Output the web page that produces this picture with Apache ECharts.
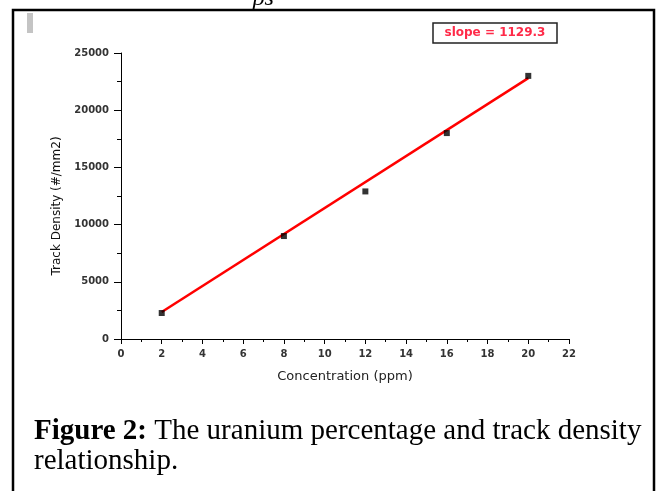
<!DOCTYPE html>
<html><head><meta charset="utf-8">
<script src="https://cdn.jsdelivr.net/npm/echarts@6/dist/echarts.min.js"></script>
<style>html,body{margin:0;padding:0;background:#fff}#c{width:669px;height:491px}</style>
</head><body><div id="c"></div>
<script>
var concentration = [2, 8, 12, 16, 20];
var trackDensity = [2270, 9000, 12900, 18000, 23000];
var fitX = [2, 20];
var fitY = [2360, 22800];
var xTicks = [0, 2, 4, 6, 8, 10, 12, 14, 16, 18, 20, 22];
var yTicks = [0, 5000, 10000, 15000, 20000, 25000];
var slopeText = 'slope = 1129.3';
var xTitle = 'Concentration (ppm)';
var yTitle = 'Track Density (#/mm2)';

var chart = echarts.init(document.getElementById('c'), null, {renderer: 'canvas'});
var labelFont = {fontFamily: 'DejaVu Sans', fontSize: 10, fontWeight: 'bold', color: '#333', formatter: function (v) { return String(v); }};
chart.setOption({
  animation: false,
  backgroundColor: '#fff',
  grid: {left: 121, top: 53, right: 100, bottom: 152, containLabel: false},
  xAxis: {
    type: 'value', min: xTicks[0], max: xTicks[xTicks.length - 1], interval: 2,
    axisLine: {show: true, lineStyle: {color: '#000', width: 1}},
    axisTick: {show: true, length: 5, lineStyle: {color: '#000'}},
    minorTick: {show: true, splitNumber: 2, length: 3, lineStyle: {color: '#000'}},
    splitLine: {show: false},
    axisLabel: Object.assign({margin: 10}, labelFont),
    name: xTitle, nameLocation: 'middle', nameGap: 31,
    nameTextStyle: {fontFamily: 'DejaVu Sans', fontSize: 13, color: '#222'}
  },
  yAxis: {
    type: 'value', min: yTicks[0], max: yTicks[yTicks.length - 1], interval: 5000,
    axisLine: {show: true, lineStyle: {color: '#000', width: 1}},
    axisTick: {show: true, length: 7, lineStyle: {color: '#000'}},
    minorTick: {show: true, splitNumber: 2, length: 4, lineStyle: {color: '#000'}},
    splitLine: {show: false},
    axisLabel: Object.assign({margin: 12}, labelFont)
  },
  series: [
    {
      type: 'line', data: fitX.map(function (x, i) { return [x, fitY[i]]; }),
      showSymbol: false, symbol: 'none',
      lineStyle: {color: '#ff0000', width: 2.5}, z: 2
    },
    {
      type: 'scatter', symbol: 'rect', symbolSize: 6,
      data: concentration.map(function (x, i) { return [x, trackDensity[i]]; }),
      itemStyle: {color: '#000'}, z: 3
    }
  ],
  graphic: [
    {type: 'rect', shape: {x: 13, y: 10, width: 641, height: 500}, style: {fill: 'none', stroke: '#000', lineWidth: 2.5}, silent: true},
    {type: 'rect', shape: {x: 27, y: 13, width: 6, height: 20}, style: {fill: '#c4c4c4'}, silent: true},
    {type: 'text', x: 253, y: -13, style: {text: 'ρs', fontFamily: 'Liberation Serif', fontStyle: 'italic', fontSize: 24, fill: '#000'}, silent: true},
    {type: 'rect', shape: {x: 433, y: 23, width: 124, height: 20}, style: {fill: '#fff', stroke: '#222', lineWidth: 1.5}, silent: true},
    {type: 'text', x: 495, y: 33, style: {text: slopeText, fontFamily: 'DejaVu Sans', fontWeight: 'bold', fontSize: 12, fill: '#ff2a48', align: 'center', verticalAlign: 'middle'}, silent: true},
    {type: 'text', x: 57, y: 206, rotation: Math.PI / 2, style: {text: yTitle, fontFamily: 'DejaVu Sans', fontSize: 12, fill: '#111', align: 'center', verticalAlign: 'middle'}, silent: true},
    {type: 'text', x: 34, y: 446, style: {rich: {b: {fontFamily: 'Liberation Serif', fontWeight: 'bold', fontSize: 29, fill: '#000'}, n: {fontFamily: 'Liberation Serif', fontSize: 29, fill: '#000'}}, text: '{b|Figure 2:}{n| The uranium percentage and track density}', verticalAlign: 'bottom'}, silent: true},
    {type: 'text', x: 34, y: 476, style: {text: 'relationship.', fontFamily: 'Liberation Serif', fontSize: 29, fill: '#000', verticalAlign: 'bottom'}, silent: true}
  ]
});
</script></body></html>
